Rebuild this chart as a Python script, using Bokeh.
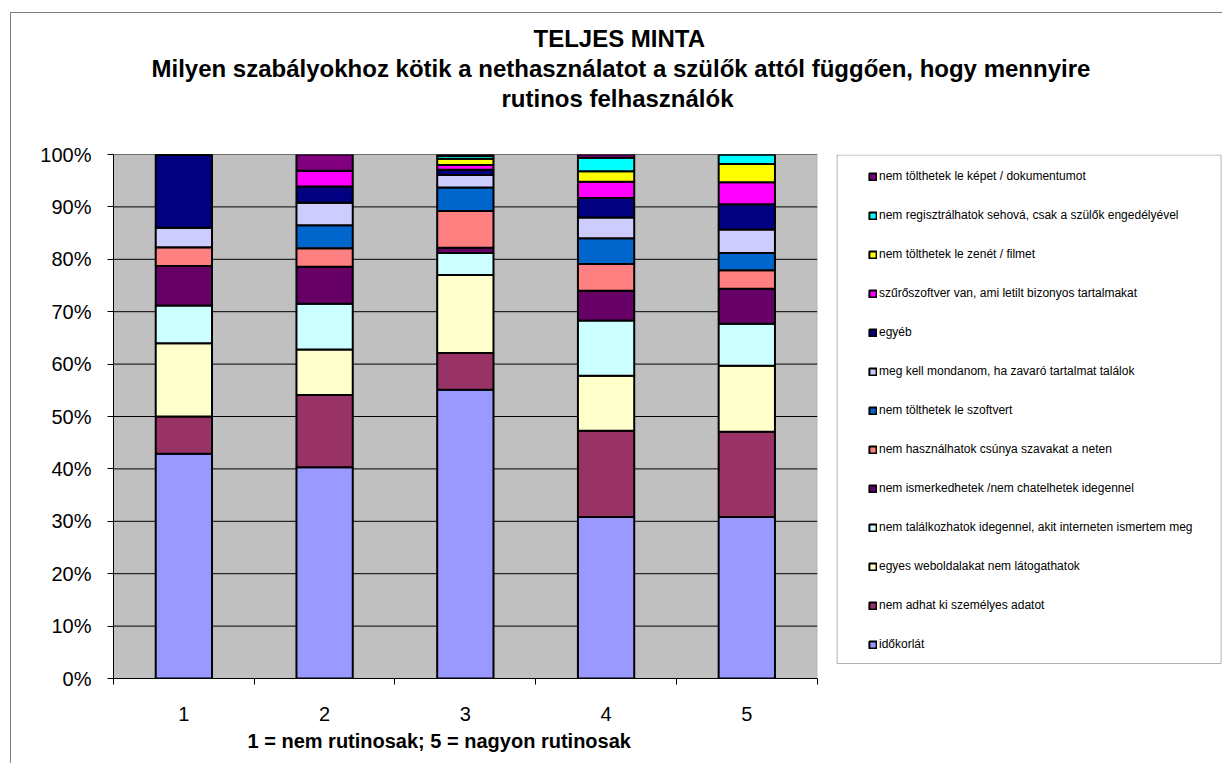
from bokeh.plotting import figure
from bokeh.models import (ColumnDataSource, Range1d, FixedTicker, PrintfTickFormatter,
                          Legend, LegendItem, Title, BoxAnnotation)
from bokeh.embed import file_html
from bokeh.resources import INLINE

# ---------------- data ----------------
groups = [1, 2, 3, 4, 5]
tick_labels = ["1", "2", "3", "4", "5"]
y_ticks = [0, 10, 20, 30, 40, 50, 60, 70, 80, 90, 100]

series_names = [
    "időkorlát",
    "nem adhat ki személyes adatot",
    "egyes weboldalakat nem látogathatok",
    "nem találkozhatok idegennel, akit interneten ismertem meg",
    "nem ismerkedhetek /nem chatelhetek idegennel",
    "nem használhatok csúnya szavakat a neten",
    "nem tölthetek le szoftvert",
    "meg kell mondanom, ha zavaró tartalmat találok",
    "egyéb",
    "szűrőszoftver van, ami letilt bizonyos tartalmakat",
    "nem tölthetek le zenét / filmet",
    "nem regisztrálhatok sehová, csak a szülők engedélyével",
    "nem tölthetek le képet / dokumentumot",
]

idokorlat      = [42.9, 40.3, 55.1, 30.8, 30.8]
szemelyes      = [7.1, 13.8, 7.0, 16.5, 16.3]
weboldalak     = [14.0, 8.7, 14.9, 10.5, 12.6]
talalkozas     = [7.2, 8.7, 4.2, 10.5, 8.0]
ismerkedes     = [7.5, 7.1, 1.0, 5.7, 6.7]
csunya         = [3.6, 3.5, 7.0, 5.1, 3.5]
szoftver       = [0.0, 4.4, 4.5, 4.9, 3.3]
megmondani     = [3.7, 4.3, 2.4, 4.0, 4.5]
egyeb          = [14.0, 3.1, 1.0, 3.7, 4.8]
szuro          = [0.0, 3.0, 0.9, 3.1, 4.2]
zene_film      = [0.0, 0.0, 1.2, 2.0, 3.5]
regisztracio   = [0.0, 0.0, 0.5, 2.6, 1.8]
kep_dokumentum = [0.0, 3.1, 0.3, 0.6, 0.0]

colors = ["#9999FF", "#993366", "#FFFFCC", "#CCFFFF", "#660066", "#FF8080",
          "#0066CC", "#CCCCFF", "#000080", "#FF00FF", "#FFFF00", "#00FFFF", "#800080"]

title_lines = ["TELJES MINTA",
               "Milyen szabályokhoz kötik a nethasználatot a szülők attól függően, hogy mennyire",
               "rutinos felhasználók"]
x_label = "1 = nem rutinosak; 5 = nagyon rutinosak"

FONT = "Liberation Sans"

# ---------------- figure ----------------
keys = ["s%d" % i for i in range(len(series_names))]
values = [idokorlat, szemelyes, weboldalak, talalkozas, ismerkedes, csunya, szoftver,
          megmondani, egyeb, szuro, zene_film, regisztracio, kep_dokumentum]
data = {"x": groups}
for k, v in zip(keys, values):
    data[k] = v
source = ColumnDataSource(data)

X_END = 8.38   # frame extends to the right so the legend box lies inside it

p = figure(width=1212, height=751, output_backend="svg", toolbar_location=None,
           x_range=Range1d(0.5, X_END), y_range=Range1d(0, 100),
           min_border_left=102, min_border_right=1, min_border_top=141,
           min_border_bottom=86)
p.margin = (12, 0, 0, 10)
p.styles = {"border-left": "1px solid #808080", "border-top": "1px solid #808080"}

p.background_fill_color = "white"
p.border_fill_color = "white"
p.outline_line_color = None
p.xgrid.grid_line_color = None
p.ygrid.grid_line_color = None

# plot area background + outline
plot_area = BoxAnnotation(left=0.5, right=5.5, bottom=0, top=100,
                          fill_color="#C0C0C0", fill_alpha=1.0,
                          line_color="#808080", line_width=1, level="underlay")
p.add_layout(plot_area)

# legend box
legend_box = BoxAnnotation(left=5.642, right=X_END - 0.01, bottom=2.86, top=99.9,
                           fill_color="white", fill_alpha=1.0, line_color="black",
                           line_width=1, level="underlay")
p.add_layout(legend_box)

# horizontal gridlines inside plot area
p.segment(x0=[0.5] * len(y_ticks), x1=[5.5] * len(y_ticks), y0=y_ticks, y1=y_ticks,
          line_color="black", line_width=1)

renderers = p.vbar_stack(keys, x="x", width=0.4, color=colors, source=source,
                         line_color="black", line_width=2)

# y axis
p.yaxis.ticker = FixedTicker(ticks=y_ticks)
p.yaxis.formatter = PrintfTickFormatter(format="%d%%")
p.yaxis.major_tick_out = 6
p.yaxis.major_tick_in = 0
p.yaxis.minor_tick_line_color = None
p.yaxis.axis_line_color = "black"
p.yaxis.major_tick_line_color = "black"
p.yaxis.major_label_text_font = FONT
p.yaxis.major_label_text_font_size = "20px"
p.yaxis.major_label_text_color = "black"
p.yaxis.major_label_standoff = 16

# x axis
p.xaxis.bounds = (0.5, 5.5)
p.xaxis.ticker = FixedTicker(ticks=groups, minor_ticks=[0.5, 1.5, 2.5, 3.5, 4.5, 5.5])
p.xaxis.major_label_overrides = {g: t for g, t in zip(groups, tick_labels)}
p.xaxis.major_tick_out = 0
p.xaxis.major_tick_in = 0
p.xaxis.minor_tick_out = 6
p.xaxis.minor_tick_in = 0
p.xaxis.minor_tick_line_color = "black"
p.xaxis.axis_line_color = "black"
p.xaxis.major_label_text_font = FONT
p.xaxis.major_label_text_font_size = "20px"
p.xaxis.major_label_text_color = "black"
p.xaxis.major_label_standoff = 22

# x axis label as a left-aligned title below (offset from frame left)
xl = Title(text=x_label, align="left", offset=134, text_font=FONT,
           text_font_size="20px", text_font_style="bold", text_color="black",
           standoff=8)
p.add_layout(xl, "below")

# titles, stacked from the frame outward (a blank spacer first)
spacer = Title(text=" ", align="left", text_font=FONT, text_font_size="10px", standoff=29)
p.add_layout(spacer, "above")
offsets = [420, 38, 388]
for i in [2, 1, 0]:
    t = Title(text=title_lines[i], align="left", offset=offsets[i], text_font=FONT,
              text_font_size="24px", text_font_style="bold", text_color="black",
              standoff=1)
    p.add_layout(t, "above")

# legend
items = [LegendItem(label=name, renderers=[r]) for name, r in zip(series_names, renderers)]
items = items[::-1]
legend = Legend(items=items, location=(745, 14), orientation="vertical",
                label_text_font=FONT, label_text_font_size="12px", label_text_color="black",
                glyph_width=9, glyph_height=9, label_height=20, spacing=19, padding=10,
                margin=0, label_standoff=2, border_line_alpha=0, background_fill_alpha=0)
p.add_layout(legend, "center")

open("out.html", "w").write(file_html(p, INLINE))
